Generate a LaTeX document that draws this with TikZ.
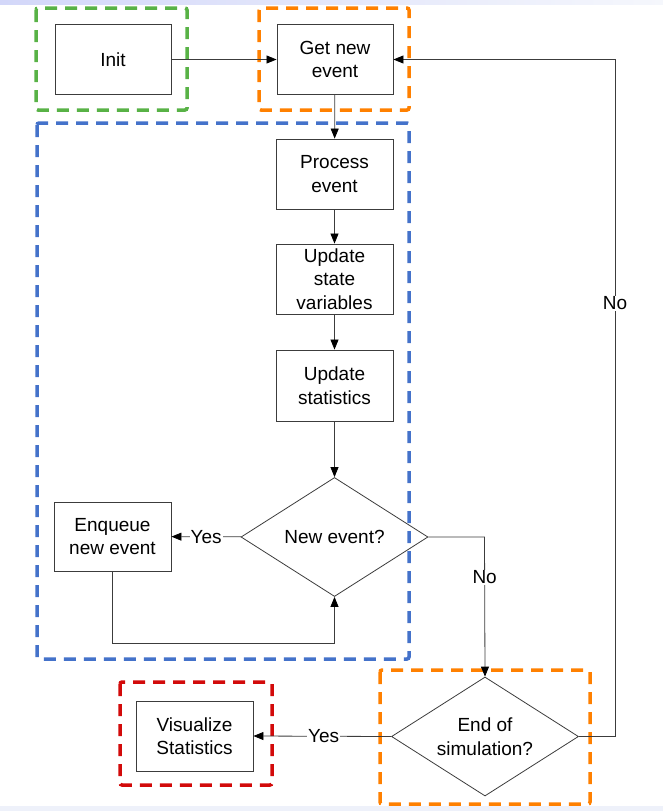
\documentclass[tikz,border=0pt]{standalone}
\usepackage{fontspec}
\setmainfont{Liberation Sans}
\usetikzlibrary{shapes.geometric,arrows.meta}
\definecolor{grp}{RGB}{88,178,70}
\definecolor{org}{RGB}{255,128,0}
\definecolor{blu}{RGB}{68,114,202}
\definecolor{redd}{RGB}{210,10,10}
\definecolor{lin}{RGB}{60,60,60}
\definecolor{band}{RGB}{222,228,246}
\begin{document}
\begin{tikzpicture}[x=1pt,y=-1pt,
  every node/.style={font=\fontsize{19}{23.5}\selectfont},
  procbox/.style={draw=lin,line width=0.9pt,minimum width=117pt,minimum height=70pt,align=center,inner sep=0pt,fill=white},
  decis/.style={draw=lin,line width=0.8pt,diamond,aspect=1.57,minimum width=187pt,minimum height=119pt,inner sep=0pt,align=center},
  conn/.style={draw=lin,line width=0.8pt},
  arr/.style={conn,-{Triangle[length=10pt,width=8pt,color=black,fill=black]}},
  grp/.style={line width=3.5pt,dash pattern=on 12pt off 8pt,rounded corners=2pt},
  lbl/.style={fill=white,inner sep=1pt}]
\useasboundingbox (0,0) rectangle (663,811);
\shade[left color=band!90!blue!80, right color=band!30] (0,0) rectangle (663,4);
\fill[band!50] (0,806) rectangle (663,811);
% group boxes
\draw[grp,draw=grp] (36,8) rectangle (187,110);
\draw[grp,draw=org] (259,8) rectangle (409,110);
\draw[grp,draw=blu] (37,123) rectangle (409,659);
\draw[grp,draw=org] (380,670) rectangle (590,804);
\draw[grp,draw=redd] (120,682) rectangle (272,785);
% nodes
\node[procbox,minimum width=116pt] (init) at (113,59.5) {Init};
\node[procbox,minimum width=116pt] (get) at (335,59.5) {Get new\\event};
\node[procbox] (proc) at (334.5,174) {Process\\event};
\node[procbox] (ustate) at (334.5,279) {Update\\state\\variables};
\node[procbox,minimum height=71pt] (ustat) at (334.5,385.5) {Update\\statistics};
\node[decis] (newev) at (334.5,537) {New event?};
\node[procbox,minimum height=69pt] (enq) at (112.5,536.5) {Enqueue\\new event};
\node[decis] (endsim) at (485,736.5) {End of\\simulation?};
\node[procbox] (vis) at (194.5,736) {Visualize\\Statistics};
\coordinate (rtop) at (615,59.5);
\coordinate (rbot) at (615,736.5);
\coordinate (nxt) at (484.5,537);
\coordinate (lp1) at (112.5,643);
\coordinate (lp2) at (334.5,643);
% connectors
\draw[arr] (init) -- (get);
\draw[arr] (get) -- (proc);
\draw[arr] (proc) -- (ustate);
\draw[arr] (ustate) -- (ustat);
\draw[arr] (ustat) -- (newev);
\draw[arr] (newev) -- node[lbl,pos=0.5] {Yes} (enq);
\draw[arr] (enq.south) -- (lp1) -- (lp2) -- (newev.south);
\draw[arr] (newev.east) -- (nxt) -- node[lbl,pos=0.29] {No} (endsim.north);
\draw[arr] (endsim.east) -- (rbot) -- node[lbl,pos=0.64] {No} (rtop) -- (get.east);
\draw[arr] (endsim.west) -- node[lbl,pos=0.49] {Yes} (vis.east);
\end{tikzpicture}
\end{document}
